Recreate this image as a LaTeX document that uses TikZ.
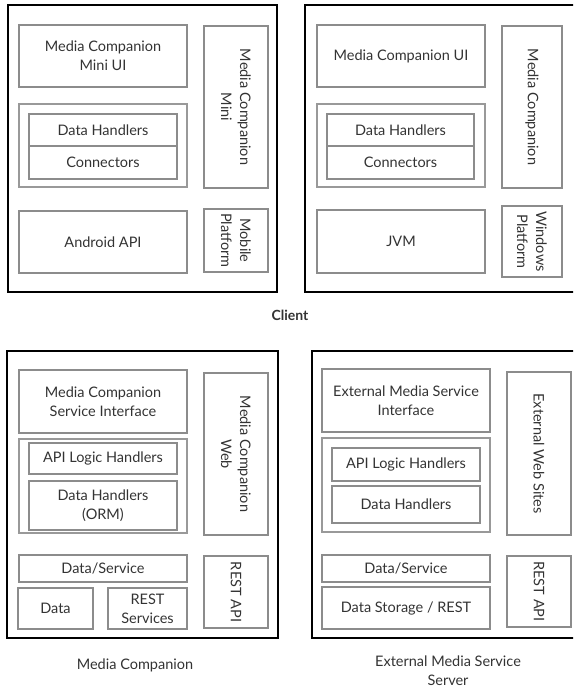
\documentclass[tikz,border=0pt]{standalone}
\usepackage{fontspec}
\setmainfont{Lato}

\begin{document}
\begin{tikzpicture}[x=1pt, y=-1pt,
        txt/.style={text=black!80, font=\fontsize{14.5}{19}\selectfont, align=center, inner sep=0pt},
        box/.style={txt, draw=black!45, line width=1.4pt},
        grp/.style={draw=black!40, line width=1.4pt, inner sep=0pt},
        side/.style={box, rotate=-90},
        outer/.style={draw=black, line width=1.8pt}]
        \useasboundingbox (0,0) rectangle (573,688);
        \clip (0,0) rectangle (573,688);

        % Client: mobile
        \draw[outer] (8,5) rectangle (277,292);
        \node[box, minimum width=168, minimum height=62] (miniui) at (103,56) {Media Companion\\Mini UI};
        \node[grp, minimum width=168, minimum height=83] (grpA) at (103,145.5) {};
        \node[box, minimum width=148, minimum height=32] (dhA) at (103,130) {Data Handlers};
        \node[box, minimum width=148, minimum height=33] (conA) at (103,162.5) {Connectors};
        \node[side, minimum width=162, minimum height=64] (mcmini) at (236,107) {Media Companion\\Mini};
        \node[box, minimum width=168, minimum height=62] (android) at (103,242) {Android API};
        \node[side, minimum width=63, minimum height=64] (mobile) at (236,240.5) {Mobile\\Platform};

        % Client: desktop
        \draw[outer] (305,5) rectangle (600,292);
        \node[box, minimum width=168, minimum height=62] (mcui) at (401,56) {Media Companion UI};
        \node[grp, minimum width=168, minimum height=83] (grpB) at (401,145.5) {};
        \node[box, minimum width=147, minimum height=32] (dhB) at (400.5,130) {Data Handlers};
        \node[box, minimum width=147, minimum height=33] (conB) at (400.5,162.5) {Connectors};
        \node[side, minimum width=162, minimum height=60] (mc) at (532,107) {Media Companion};
        \node[box, minimum width=168, minimum height=63] (jvm) at (401,241.5) {JVM};
        \node[side, minimum width=71, minimum height=60] (windows) at (532,241.5) {Windows\\Platform};

        \node[txt, font=\fontsize{14}{16}\selectfont\bfseries] (client) at (290,315) {Client};

        % Media Companion server
        \draw[outer] (7,351) rectangle (278,638);
        \node[box, minimum width=168, minimum height=63] (mcsi) at (103,401.5) {Media Companion\\Service Interface};
        \node[grp, minimum width=168, minimum height=94] (grpC) at (103,486) {};
        \node[box, minimum width=148, minimum height=31] (alhC) at (103,458.5) {API Logic Handlers};
        \node[box, minimum width=148, minimum height=49] (orm) at (103,505.5) {Data Handlers\\(ORM)};
        \node[side, minimum width=162, minimum height=64] (mcweb) at (236,454) {Media Companion\\Web};
        \node[box, minimum width=168, minimum height=27] (dsC) at (103,568.5) {Data/Service};
        \node[box, minimum width=75, minimum height=41] (data) at (55.5,608.5) {Data};
        \node[box, minimum width=79, minimum height=41] (rests) at (147.5,608.5) {REST\\Services};
        \node[side, minimum width=72, minimum height=64] (restC) at (236,592) {REST API};
        \node[txt] (mclabel) at (135,665) {Media Companion};

        % External media service server
        \draw[outer] (312,351) rectangle (600,638);
        \node[box, minimum width=168, minimum height=63] (emsi) at (406,400.5) {External Media Service\\Interface};
        \node[grp, minimum width=168, minimum height=94] (grpD) at (406,485) {};
        \node[box, minimum width=148, minimum height=33] (alhD) at (406,464.5) {API Logic Handlers};
        \node[box, minimum width=148, minimum height=37] (dhD) at (406,504.5) {Data Handlers};
        \node[side, minimum width=163, minimum height=64] (ews) at (539,453.5) {External Web Sites};
        \node[box, minimum width=168, minimum height=27] (dsD) at (406,568.5) {Data/Service};
        \node[box, minimum width=168, minimum height=42] (dsr) at (406,608) {Data Storage / REST};
        \node[side, minimum width=71, minimum height=64] (restD) at (539,591.5) {REST API};
        \node[txt] (emslabel) at (448,671) {External Media Service\\Server};
\end{tikzpicture}
\end{document}
